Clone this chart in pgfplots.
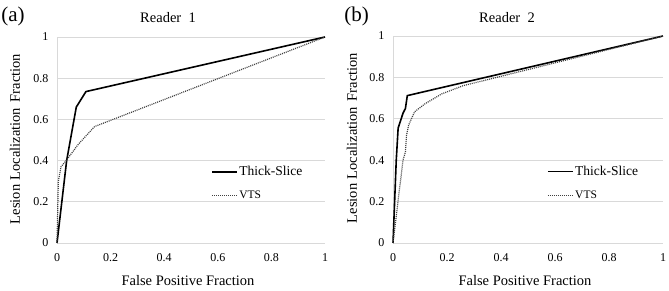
\documentclass[border=0pt]{standalone}
\usepackage{fontspec}
\setmainfont{Liberation Serif}
\usepackage{pgfplots}
\pgfplotsset{compat=1.18}
\definecolor{gridgray}{HTML}{D9D9D9}
\definecolor{vtsgray}{HTML}{404040}
\pgfplotsset{
  myaxis/.style={
    scale only axis,
    xmin=0, xmax=1, ymin=0, ymax=1,
    xtick={0,0.2,0.4,0.6,0.8,1},
    ytick={0,0.2,0.4,0.6,0.8,1},
    ymajorgrids,
    major grid style={gridgray, line width=0.8bp},
    axis x line*=bottom, axis y line*=left,
    axis line style={gridgray, line width=0.8bp, -},
    major tick length=0pt,
    tick label style={font=\fontsize{12bp}{14bp}\selectfont},
    /pgf/number format/assume math mode=true,
    xticklabel style={yshift=-7bp},
    yticklabel style={xshift=-5bp},
    clip=false,
    legend cell align=left,
    legend image code/.code={\draw[##1] (0bp,0bp) -- (25bp,0bp);},
    legend style={draw=none, fill=none, inner sep=0pt, row sep=11bp,
      nodes={inner sep=1.5bp}},
  },
  thick/.style={black, line width=1.6bp},
  vts/.style={vtsgray, line width=1.2bp, dash pattern=on 1bp off 1bp},
}
\begin{document}
\begin{tikzpicture}[x=1bp,y=1bp]
\path[use as bounding box] (0,0) rectangle (669,290);
% Panel (a)
\begin{axis}[myaxis, at={(57bp,47bp)}, anchor=south west,
  width=268bp, height=206bp,
  legend style={at={(rel axis cs:0.575,0.29)}, anchor=west}]
\addplot[thick] coordinates {(0,0) (0.036,0.40) (0.072,0.66) (0.108,0.735) (1,1)};
\addlegendentry{\fontsize{13.5bp}{15bp}\selectfont Thick-Slice}
\addplot[vts] coordinates {(0,0) (0.005,0.30) (0.015,0.37) (0.04,0.41) (0.08,0.48) (0.14,0.565) (1,1)};
\addlegendentry{\fontsize{11.5bp}{13bp}\selectfont VTS}
\end{axis}
% Panel (b)
\begin{axis}[myaxis, at={(393bp,47bp)}, anchor=south west,
  width=270bp, height=207bp,
  legend style={at={(rel axis cs:0.57,0.29)}, anchor=west}]
\addplot[thick] coordinates {(0,0) (0.012,0.40) (0.019,0.555) (0.037,0.627) (0.046,0.65) (0.053,0.712) (1,1)};
\addlegendentry{\fontsize{13.5bp}{15bp}\selectfont Thick-Slice}
\addplot[vts] coordinates {(0,0) (0.037,0.40) (0.046,0.44) (0.05,0.52) (0.058,0.57) (0.08,0.634) (0.118,0.672) (0.18,0.72) (0.26,0.76) (1,1)};
\addlegendentry{\fontsize{11.5bp}{13bp}\selectfont VTS}
\end{axis}
% Panel labels, titles, axis labels
\node[font=\fontsize{21bp}{24bp}\selectfont] at (13,274) {(a)};
\node[font=\fontsize{21bp}{24bp}\selectfont] at (356.5,274) {(b)};
\node[font=\fontsize{14.5bp}{17bp}\selectfont] at (168,272) {Reader\hspace{0.5em}1};
\node[font=\fontsize{14.5bp}{17bp}\selectfont] at (507,272) {Reader\hspace{0.5em}2};
\node[font=\fontsize{14.5bp}{17bp}\selectfont, rotate=90] at (15,151) {Lesion\hspace{0.3em}Localization\hspace{0.4em}Fraction};
\node[font=\fontsize{14.5bp}{17bp}\selectfont, rotate=90] at (352,152) {Lesion\hspace{0.3em}Localization\hspace{0.4em}Fraction};
\node[font=\fontsize{14.5bp}{17bp}\selectfont] at (188,9) {False Positive Fraction};
\node[font=\fontsize{14.5bp}{17bp}\selectfont] at (525,9) {False Positive Fraction};
\end{tikzpicture}
\end{document}
